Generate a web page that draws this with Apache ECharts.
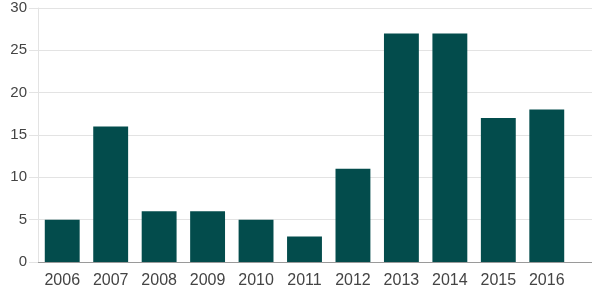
<!DOCTYPE html>
<html><head><meta charset="utf-8">
<script src="https://cdn.jsdelivr.net/npm/echarts@6/dist/echarts.min.js"></script>
<style>html,body{margin:0;padding:0;background:#fff}#c{width:592px;height:296px}</style>
</head><body><div id="c"></div>
<script>
var categories = ['2006','2007','2008','2009','2010','2011','2012','2013','2014','2015','2016'];
var values = [5, 16, 6, 6, 5, 3, 11, 27, 27, 17, 18];
var yMin = 0, yMax = 30, yStep = 5;

var chart = echarts.init(document.getElementById('c'), null, {renderer: 'canvas'});
var font = 'Liberation Sans, Arial, sans-serif';
chart.setOption({
  animation: false,
  grid: [
    {left: 38, right: 21, top: 8, bottom: 34},
    {left: 38, right: 0, top: 8, bottom: 34}
  ],
  xAxis: [
    {gridIndex: 0, type: 'category', data: categories,
     axisLine: {show: false}, axisTick: {show: false},
     axisLabel: {fontFamily: font, fontSize: 16, color: '#444', margin: 11}},
    {gridIndex: 1, type: 'value', min: 0, max: 1,
     axisLine: {show: true, lineStyle: {color: '#9a9a9a', width: 1}},
     axisTick: {show: false}, axisLabel: {show: false}, splitLine: {show: false}}
  ],
  yAxis: [
    {gridIndex: 0, type: 'value', min: yMin, max: yMax, interval: yStep, show: false, splitLine: {show: false}},
    {gridIndex: 1, type: 'value', min: yMin, max: yMax, interval: yStep,
     axisLine: {show: true, lineStyle: {color: '#e3e3e3'}},
     axisTick: {show: true, length: 9, lineStyle: {color: '#e3e3e3'}},
     axisLabel: {fontFamily: font, fontSize: 15, color: '#444', margin: 11},
     splitLine: {show: true, lineStyle: {color: '#e3e3e3'}}}
  ],
  series: [
    {type: 'bar', xAxisIndex: 0, yAxisIndex: 0, data: values,
     barCategoryGap: '28%', itemStyle: {color: '#034c4c'}, z: 3},
    {type: 'line', xAxisIndex: 1, yAxisIndex: 1, data: [], silent: true}
  ]
});
</script></body></html>
